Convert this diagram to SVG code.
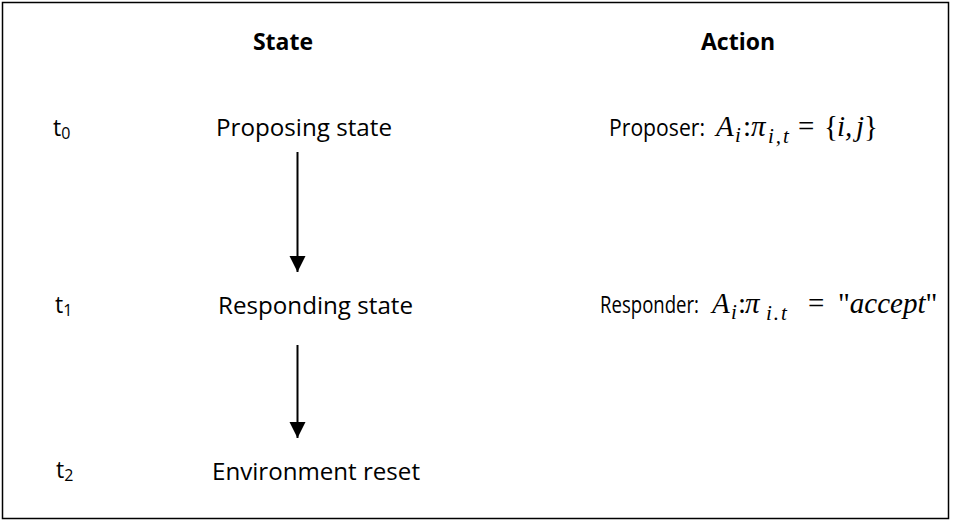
<svg xmlns="http://www.w3.org/2000/svg" width="953" height="521" viewBox="0 0 953 521">
<defs>
<style>
.lbl{font-family:"Open Sans","Liberation Sans",sans-serif;font-size:23px;fill:#000}
.hdr{font-family:"Open Sans","Liberation Sans",sans-serif;font-size:23px;font-weight:bold;fill:#000}
.tsub{font-size:16px}
.m{font-family:"Liberation Serif","DejaVu Serif",serif;font-style:italic;font-size:29px;fill:#000}
.mn{font-family:"Liberation Serif","DejaVu Serif",serif;font-style:normal;font-size:29px;fill:#000}
.sub{font-family:"Liberation Serif","DejaVu Serif",serif;font-style:italic;font-size:21px;fill:#000;letter-spacing:2px}
.conn{stroke:#000;stroke-width:2;fill:none}
</style>
<marker id="ah" markerWidth="16" markerHeight="17" refX="16" refY="8" orient="auto" markerUnits="userSpaceOnUse">
<path d="M0,0 L16,8 L0,16 Z" fill="#000"/>
</marker>
</defs>
<rect x="2.5" y="2.5" width="946" height="516" fill="#fff" stroke="#000" stroke-width="1.5"/>
<g id="headers">
<text class="hdr" x="283" y="50" text-anchor="middle">State</text>
<text class="hdr" x="738" y="50" text-anchor="middle">Action</text>
</g>
<g id="time-t0"><text class="lbl" x="53" y="136">t<tspan class="tsub" dy="3">0</tspan></text></g>
<g id="time-t1"><text class="lbl" x="55" y="313">t<tspan class="tsub" dy="3">1</tspan></text></g>
<g id="time-t2"><text class="lbl" x="56" y="478">t<tspan class="tsub" dy="3">2</tspan></text></g>
<g id="proposing-state"><text class="lbl" x="216" y="136" textLength="176" lengthAdjust="spacingAndGlyphs">Proposing state</text></g>
<g id="responding-state"><text class="lbl" x="218" y="314" textLength="195" lengthAdjust="spacingAndGlyphs">Responding state</text></g>
<g id="environment-reset"><text class="lbl" x="212" y="480" textLength="208" lengthAdjust="spacingAndGlyphs">Environment reset</text></g>
<g id="proposer-action">
<text class="lbl" x="609" y="136" textLength="96" lengthAdjust="spacingAndGlyphs">Proposer:</text>
<text class="m" x="716" y="136">A</text>
<text class="sub" x="735" y="142">i</text>
<text class="mn" x="743" y="136">:</text>
<text class="m" x="751" y="136">π</text>
<text class="sub" x="768" y="143">i,t</text>
<text class="mn" x="798" y="136">=</text>
<text class="mn" x="824" y="136">{</text>
<text class="m" x="837" y="136">i,</text>
<text class="m" x="856" y="136">j</text>
<text class="mn" x="864" y="136">}</text>
</g>
<g id="responder-action">
<text class="lbl" x="600" y="313" textLength="99" lengthAdjust="spacingAndGlyphs">Responder:</text>
<text class="m" x="712" y="313">A</text>
<text class="sub" x="731" y="319">i</text>
<text class="mn" x="738" y="313">:</text>
<text class="m" x="745" y="313">π</text>
<text class="sub" x="766" y="320" letter-spacing="5">i.t</text>
<text class="mn" x="808" y="313">=</text>
<text class="mn" x="838" y="313">"<tspan class="m">accept</tspan>"</text>
</g>
<g id="connectors">
<line class="conn" x1="297.5" y1="152" x2="297.5" y2="272" marker-end="url(#ah)"/>
<line class="conn" x1="297.5" y1="345" x2="297.5" y2="438" marker-end="url(#ah)"/>
</g>
</svg>
